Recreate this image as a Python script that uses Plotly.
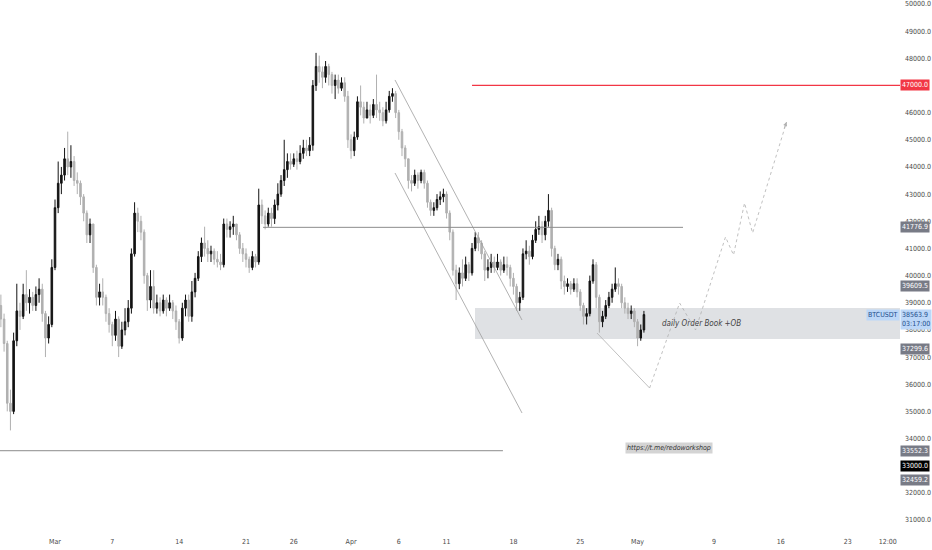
import pandas as pd
import plotly.graph_objects as go

# BTCUSDT, 8h candles from 2022-02-23 08:00
start_time = "2022-02-23 08:00"
first_open = 38900
close = [38400, 37500, 35300, 35000, 37600, 38700, 38500, 39300, 39000, 39200,
         38900, 39300, 39500, 38600, 37700, 38200, 40300, 42500, 43400, 43700,
         44300, 44000, 44200, 43500, 43400, 42900, 42300, 41500, 41900, 40300,
         39200, 39400, 39200, 38600, 38200, 37800, 38400, 37400, 38000, 38300,
         38800, 40800, 42300, 42000, 41600, 40000, 39100, 39600, 38800, 39000,
         38700, 39100, 38800, 39000, 38700, 38300, 37700, 38800, 39100, 38500,
         39400, 39900, 40700, 41200, 41000, 40800, 40900, 40600, 40500, 40400,
         41900, 41700, 41800, 41900, 41500, 41000, 40800, 40600, 40300, 40700,
         40500, 42600, 42200, 41900, 42300, 42100, 42600, 43000, 43500, 43900,
         44200, 44100, 44300, 44200, 44500, 44700, 44600, 44800, 47000, 47700,
         47500, 47300, 47700, 47400, 47000, 47200, 46900, 47100, 46600, 45000,
         44600, 45100, 46400, 46200, 45800, 46100, 45900, 46300, 46100, 46000,
         45700, 46100, 46600, 46700, 46000, 45300, 44700, 44300, 43500, 43400,
         43700, 43500, 43800, 43400, 42700, 42400, 42500, 42800, 42900, 43000,
         42300, 41600, 40200, 39700, 40100, 39900, 40400, 40100, 41000, 41400,
         41200, 40800, 40200, 40300, 40500, 40300, 40500, 40200, 40400, 40300,
         39900, 39600, 39000, 39200, 40800, 40900, 40700, 41300, 41700, 41800,
         41500, 42000, 42400, 41000, 40400, 40600, 39800, 39600, 39700, 39500,
         39700, 39400, 38900, 38500, 38600, 39800, 40400, 39200, 38300, 38500,
         38900, 39200, 39500, 39700, 39600, 39000, 38800, 38600, 38700, 38300,
         37700, 38000, 38563.9]
high = [39300, 38600, 37600, 35800, 37900, 39700, 39000, 39700, 40200, 39500,
        39400, 39600, 39900, 39700, 38700, 38500, 40600, 42800, 44200, 44000,
        44700, 45300, 44800, 44400, 43800, 43500, 43000, 42400, 42100, 41900,
        40400, 39700, 39900, 39300, 38800, 38300, 38700, 38500, 38300, 38800,
        39100, 41000, 42700, 42500, 42200, 41700, 40100, 40200, 40200, 39300,
        39200, 39300, 39200, 39300, 39100, 38900, 38400, 39000, 39300, 39300,
        39800, 40100, 40900, 41400, 41800, 41300, 41100, 41000, 40900, 40800,
        42100, 42100, 42000, 42200, 41900, 41600, 41200, 41000, 40700, 40900,
        40800, 43200, 42800, 42400, 42500, 42500, 42800, 43400, 43700, 45000,
        44500, 44500, 44500, 44600, 44800, 45000, 45000, 45100, 47200, 48200,
        48100, 47700, 47900, 47800, 47500, 47400, 47400, 47300, 47300, 46800,
        45200, 45300, 46600, 47000, 46400, 46400, 46300, 46500, 47400, 46400,
        46200, 46400, 46800, 46900, 46800, 46100, 45400, 44800, 44300, 43700,
        43900, 43800, 43900, 43900, 43500, 42800, 42700, 43000, 43100, 43200,
        43100, 42400, 41700, 40400, 40300, 40600, 40700, 40500, 41200, 41600,
        41600, 41300, 40900, 40600, 40800, 40700, 40800, 40600, 40700, 40700,
        40400, 40100, 39700, 39400, 41000, 41300, 41100, 41500, 42000, 42200,
        42000, 42200, 43000, 42500, 41100, 40800, 40700, 40000, 39900, 39800,
        39900, 39900, 39500, 39000, 38800, 40000, 40600, 40500, 39300, 38700,
        39100, 39400, 39700, 40300, 39900, 39700, 39200, 39000, 38900, 38800,
        38400, 38200, 38700]
low = [38100, 37200, 35000, 34300, 34900, 37400, 38000, 38400, 38700, 38600,
       38700, 38700, 39000, 38300, 37000, 37500, 38100, 40200, 42300, 43000,
       43500, 43700, 43600, 43300, 43000, 42600, 42000, 41200, 41200, 40100,
       38900, 38900, 38900, 38300, 37900, 37400, 37600, 37000, 37300, 37800,
       38100, 38600, 40700, 41600, 41300, 39700, 38700, 38800, 38600, 38600,
       38500, 38600, 38500, 38700, 38400, 38000, 37500, 37600, 38500, 38300,
       38300, 39200, 39800, 40500, 40700, 40500, 40500, 40400, 40300, 40200,
       40300, 41400, 41400, 41500, 41300, 40800, 40500, 40300, 40100, 40200,
       40300, 40400, 41900, 41700, 41800, 41800, 41900, 42400, 42900, 43300,
       43600, 43900, 44000, 43900, 44100, 44300, 44400, 44400, 44600, 46800,
       47100, 46900, 47100, 47000, 46700, 46500, 46700, 46800, 46400, 44700,
       44300, 44400, 45000, 45900, 45600, 45800, 45600, 45800, 45800, 45700,
       45500, 45600, 46000, 46400, 45800, 45000, 44400, 44000, 43200, 43100,
       43300, 43200, 43400, 43200, 42500, 42200, 42200, 42400, 42600, 42700,
       42100, 41300, 40000, 39100, 39500, 39600, 39800, 39800, 40000, 40900,
       40900, 40600, 39800, 39900, 40100, 40100, 40200, 40000, 40100, 40000,
       39600, 39300, 38700, 38700, 39100, 40600, 40400, 40600, 41200, 41500,
       41200, 41300, 41800, 40700, 40200, 40200, 39500, 39300, 39400, 39300,
       39400, 39200, 38700, 38200, 38200, 38500, 39700, 38800, 37900, 38100,
       38400, 38800, 39000, 39400, 39300, 38800, 38600, 38400, 38400, 38100,
       37400, 37600, 37900]
open_ = [first_open] + close[:-1]
times = pd.date_range(start_time, periods=len(close), freq="8h")

# drawings
level_47000 = 47000
level_mid = 41776.9
level_low = 33552.3
ob_zone = [37665, 38807]
ob_start = "2022-04-13 23:30"
channel_upper = [("2022-04-05 14:25", 47202), ("2022-04-18 21:36", 38365)]
channel_lower = [("2022-04-05 14:25", 43777), ("2022-04-18 21:36", 34941)]
proj_drop = [("2022-04-26 18:00", 37886), ("2022-05-02 06:15", 35861)]
proj_rise_t = ["2022-05-02 06:15", "2022-05-05 09:40", "2022-05-07 01:45", "2022-05-10 05:00",
               "2022-05-11 01:10", "2022-05-12 04:50", "2022-05-13 01:00", "2022-05-16 14:25"]
proj_rise_p = [35861, 38991, 37997, 41421, 40758, 42673, 41568, 45655]

# axes
x_range = ["2022-02-23 05:47", "2022-05-28 11:30"]
y_range = [30633, 50147]
x_tick_vals = ["2022-03-01", "2022-03-07", "2022-03-14", "2022-03-21", "2022-03-26", "2022-04-01",
               "2022-04-06", "2022-04-11", "2022-04-18", "2022-04-25", "2022-05-01", "2022-05-09",
               "2022-05-16", "2022-05-23", "2022-05-27 04:50"]
x_tick_text = ["Mar", "7", "14", "21", "26", "Apr", "6", "11", "18", "25", "May", "9", "16", "23", "12:00"]
# 47000 and 33000 are shown by their own badges instead
y_tick_vals = [31000, 32000, 34000, 35000, 36000, 37000, 38000, 39000, 40000, 41000,
               42000, 43000, 44000, 45000, 46000, 48000, 49000, 50000]

# price scale badges: (value, background)
badges = [(47000.0, "#f23645"), (41776.9, "#787b86"), (39609.5, "#787b86"), (37299.6, "#787b86"),
          (33552.3, "#787b86"), (33000.0, "#000000"), (32459.2, "#787b86")]
last_price = 38563.9
countdown = "03:17:00"

FONT = "Liberation Sans Narrow, DejaVu Sans Condensed, sans-serif"
LINE_GREY = "#8c8c8c"

fig = go.Figure()
fig.add_trace(go.Candlestick(
    x=times, open=open_, high=high, low=low, close=close,
    increasing=dict(line=dict(color="#131313", width=1), fillcolor="#131313"),
    decreasing=dict(line=dict(color="#b0b0b0", width=1), fillcolor="#b0b0b0"),
    whiskerwidth=0, showlegend=False, hoverinfo="skip"))

# channel + projection
for seg in (channel_upper, channel_lower):
    fig.add_trace(go.Scatter(x=[p[0] for p in seg], y=[p[1] for p in seg], mode="lines",
                             line=dict(color="#9e9e9e", width=0.8), showlegend=False, hoverinfo="skip"))
fig.add_trace(go.Scatter(x=[p[0] for p in proj_drop], y=[p[1] for p in proj_drop], mode="lines",
                         line=dict(color="#b0b0b0", width=0.8), showlegend=False, hoverinfo="skip"))
fig.add_trace(go.Scatter(x=proj_rise_t, y=proj_rise_p, mode="lines",
                         line=dict(color="#b0b0b0", width=0.8, dash="dot"), showlegend=False, hoverinfo="skip"))
fig.add_annotation(x=proj_rise_t[-1], y=proj_rise_p[-1], ax=-3, ay=8, showarrow=True, arrowhead=2,
                   arrowsize=1, arrowwidth=0.8, arrowcolor="#b0b0b0", text="")

# order block zone and levels
fig.add_shape(type="rect", x0=ob_start, x1=x_range[1], y0=ob_zone[0], y1=ob_zone[1],
              fillcolor="#dfe1e4", line=dict(width=0), layer="below")
fig.add_shape(type="line", x0="2022-04-13 16:00", x1=x_range[1], y0=level_47000, y1=level_47000,
              line=dict(color="#f23645", width=1.2))
fig.add_shape(type="line", x0="2022-03-22 18:45", x1="2022-05-05 18:15", y0=level_mid, y1=level_mid,
              line=dict(color=LINE_GREY, width=1))
fig.add_shape(type="line", x0=x_range[0], x1="2022-04-16 21:40", y0=level_low, y1=level_low,
              line=dict(color=LINE_GREY, width=1))

fig.add_annotation(x="2022-05-03 08:25", y=38218, text="daily Order Book +OB", showarrow=False,
                   xanchor="left", font=dict(family=FONT, size=8, color="#444444", style="italic"))
fig.add_annotation(x="2022-05-04 07:00", y=33652, text="https://t.me/redoworkshop", showarrow=False,
                   bgcolor="#d4d4d4", borderpad=1,
                   font=dict(family=FONT, size=7, color="#333333", style="italic"))

# price scale badges
for val, bg in badges:
    fig.add_annotation(xref="paper", x=1, y=val, text=f"{val:.1f}", showarrow=False, xanchor="left",
                       bgcolor=bg, borderpad=1, font=dict(family=FONT, size=7, color="#ffffff"))
fig.add_annotation(xref="paper", x=1, y=last_price, text="BTCUSDT", showarrow=False, xanchor="right",
                   bgcolor="#bcd7f8", borderpad=1, font=dict(family=FONT, size=7, color="#1f4e8c"))
fig.add_annotation(xref="paper", x=1, y=last_price, text=f"{last_price:.1f}<br>{countdown}", showarrow=False,
                   xanchor="left", yanchor="top", yshift=6, align="left",
                   bgcolor="#bcd7f8", borderpad=1, font=dict(family=FONT, size=7, color="#1f4e8c"))

fig.update_layout(
    width=932, height=550, margin=dict(l=0, r=32, t=0, b=20),
    paper_bgcolor="white", plot_bgcolor="white",
    font=dict(family=FONT, size=7, color="#4a4a4a"),
    xaxis=dict(type="date", range=x_range, rangeslider=dict(visible=False), showgrid=False,
               zeroline=False, showline=False, ticks="", tickvals=x_tick_vals, ticktext=x_tick_text,
               ticklabelstandoff=6),
    yaxis=dict(range=y_range, side="right", showgrid=False, zeroline=False, showline=False, ticks="",
               tickvals=y_tick_vals, tickformat=".1f", ticklabelstandoff=4),
)

# page body has an 8px default margin; drop it so the figure sits at the window origin
fig.write_html("out.html", config={"displayModeBar": False},
               post_script="document.body.style.margin='0px';")
